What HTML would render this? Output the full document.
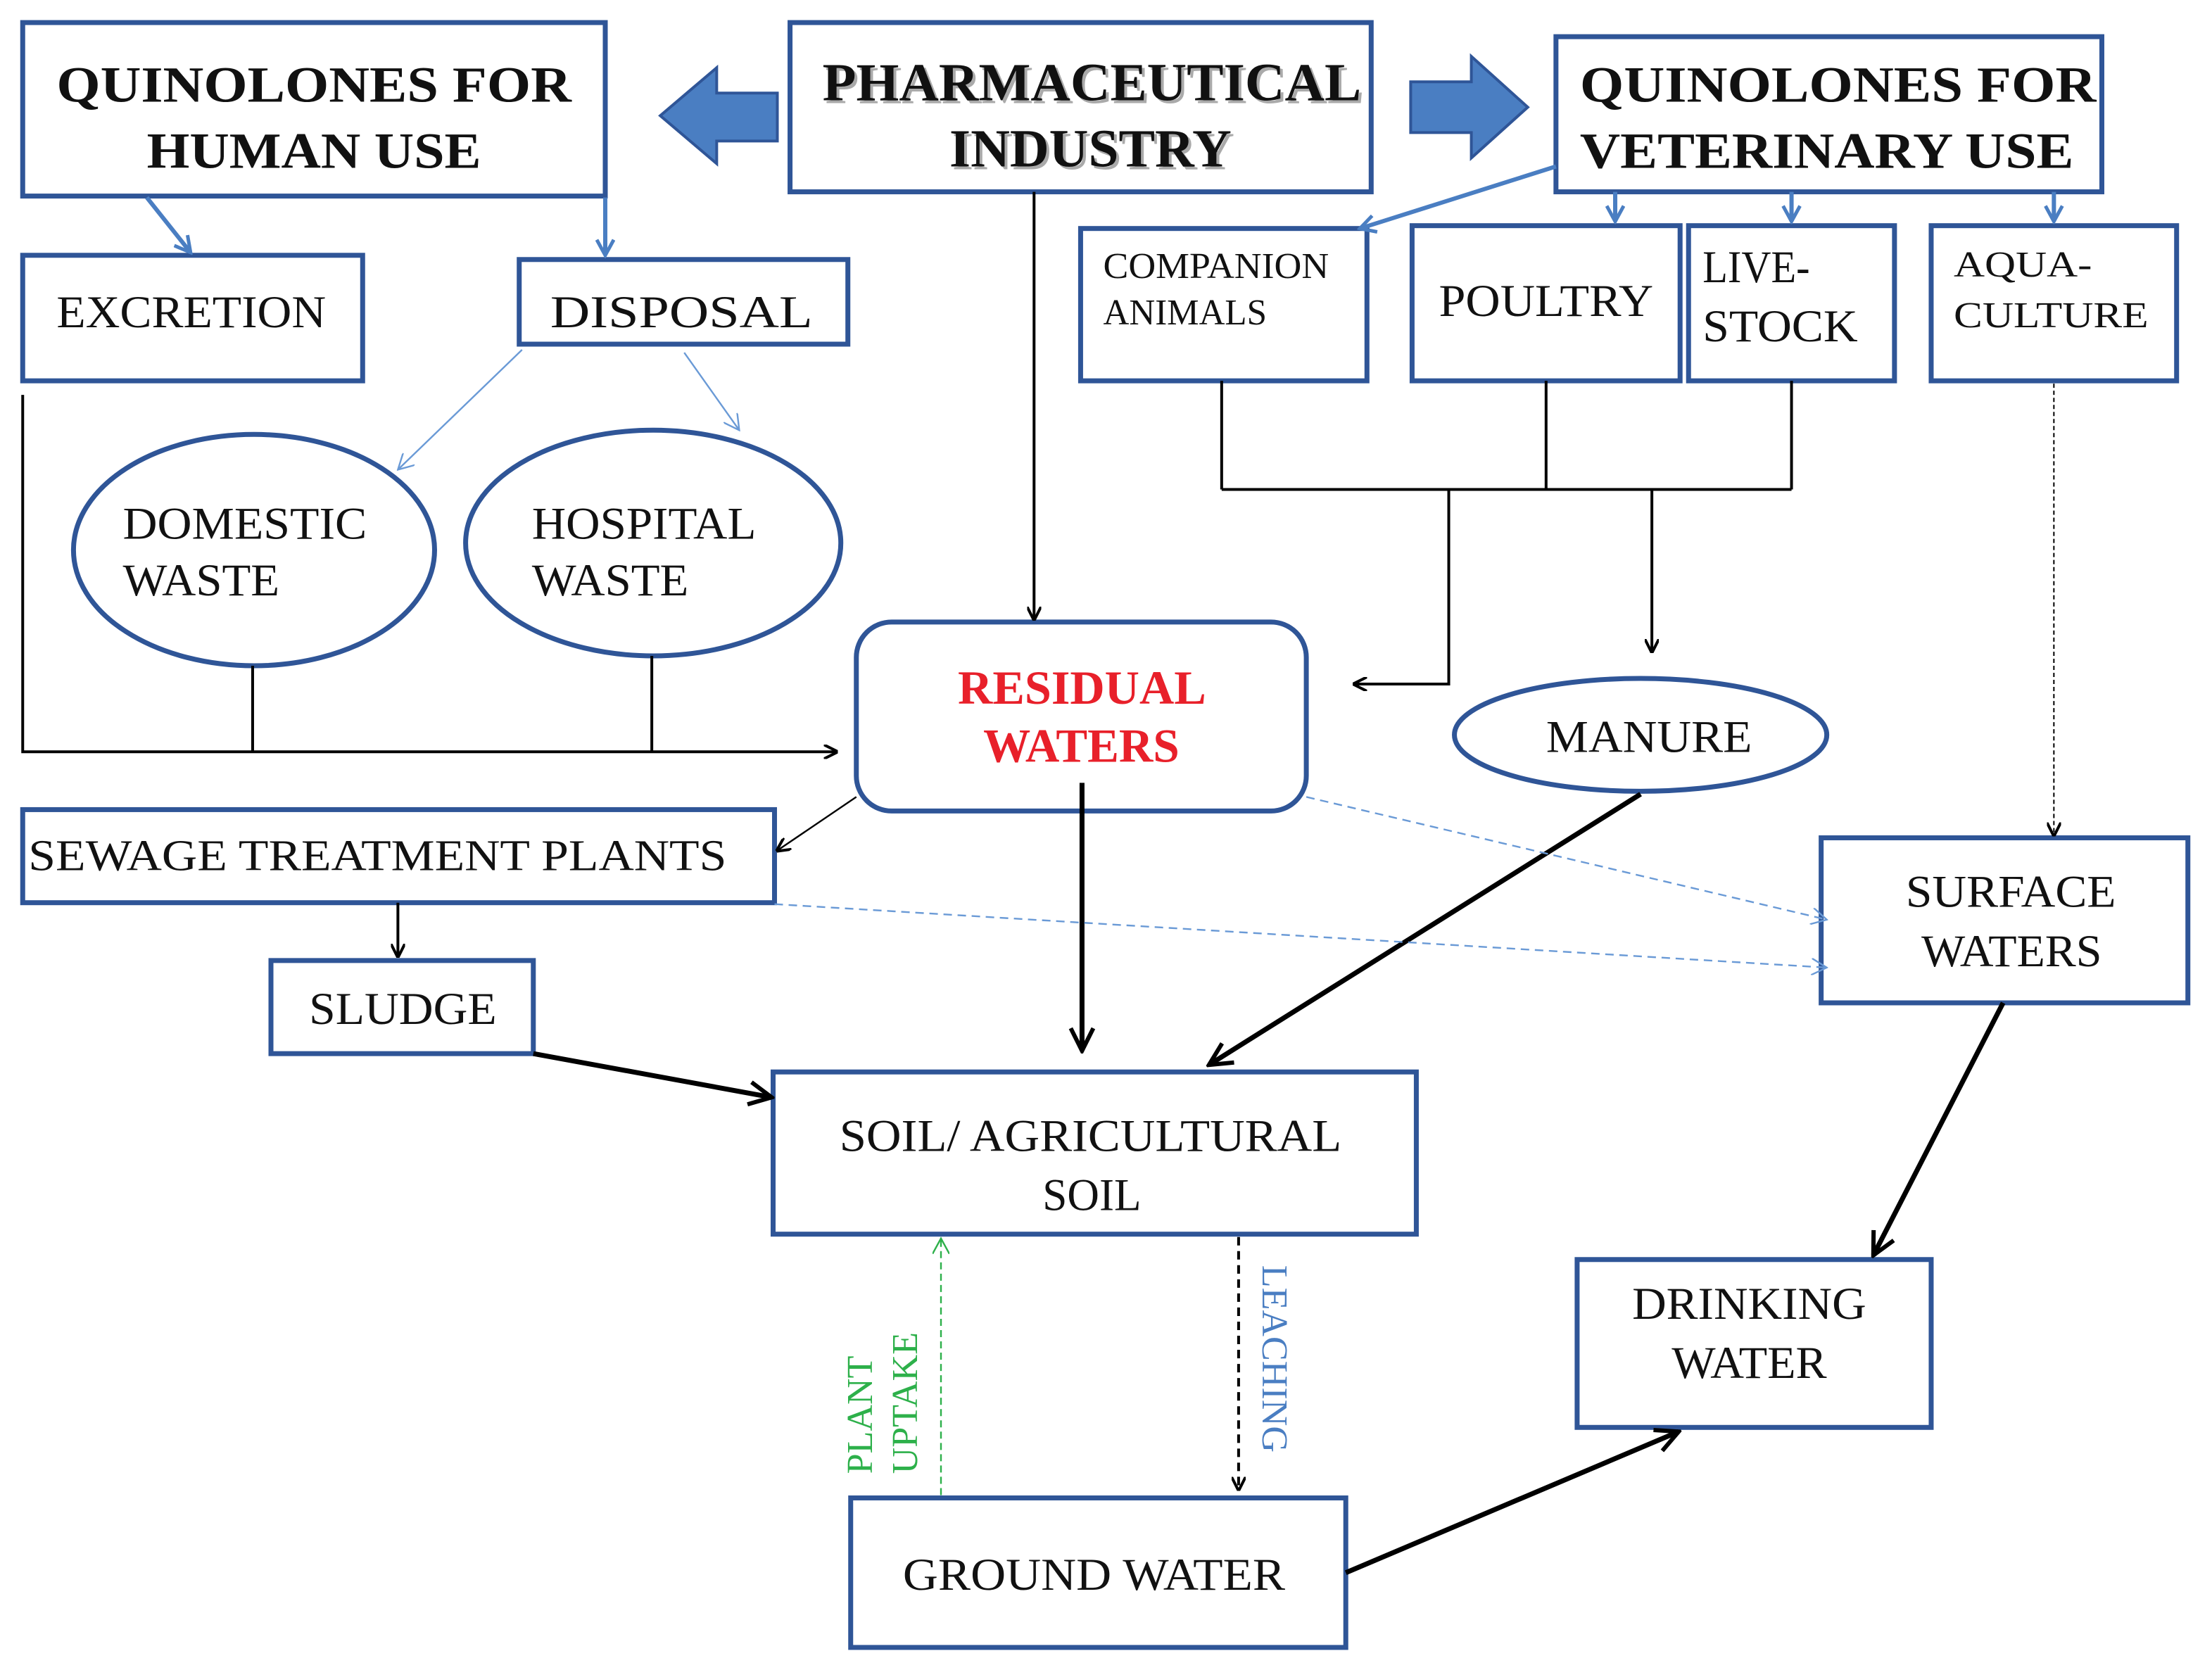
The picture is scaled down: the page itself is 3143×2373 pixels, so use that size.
<!DOCTYPE html>
<html><head><meta charset="utf-8"><style>
html,body{margin:0;padding:0;background:#fff;}
svg{display:block;}
text{font-family:"Liberation Serif",serif;fill:#111;}
</style></head><body>
<svg width="3143" height="2373" viewBox="0 0 1568 1184" xmlns="http://www.w3.org/2000/svg">
<defs>
<marker id="ab" markerWidth="10" markerHeight="10" refX="9" refY="5" orient="auto" markerUnits="userSpaceOnUse"><path d="M0,0 L10,5 L0,10" fill="none" stroke="#000" stroke-width="2"/></marker>
<marker id="abig" markerWidth="20" markerHeight="20" refX="18" refY="10" orient="auto" markerUnits="userSpaceOnUse"><path d="M2,2 L18,10 L2,18" fill="none" stroke="#000" stroke-width="3"/></marker>
<marker id="au" markerWidth="14" markerHeight="14" refX="12" refY="7" orient="auto" markerUnits="userSpaceOnUse"><path d="M1,1 L12,7 L1,13" fill="none" stroke="#4A7EC2" stroke-width="2.5"/></marker>
<marker id="aut" markerWidth="12" markerHeight="12" refX="11" refY="6" orient="auto" markerUnits="userSpaceOnUse"><path d="M0,0 L11,6 L0,12" fill="none" stroke="#6A9AD6" stroke-width="1.2"/></marker>
<marker id="ag" markerWidth="12" markerHeight="12" refX="11" refY="6" orient="auto" markerUnits="userSpaceOnUse"><path d="M0,0 L11,6 L0,12" fill="none" stroke="#2DB04A" stroke-width="1.2"/></marker>
</defs>
<g fill="none" stroke="#2F5597" stroke-width="3.5">
<rect x="16" y="16" width="413" height="123"/>
<rect x="560" y="16" width="412" height="120"/>
<rect x="1103" y="26" width="387" height="110"/>
<rect x="16" y="181" width="241" height="89"/>
<rect x="368" y="184" width="233" height="60"/>
<rect x="766" y="162" width="203" height="108"/>
<rect x="1001" y="160" width="190" height="110"/>
<rect x="1197" y="160" width="146" height="110"/>
<rect x="1369" y="160" width="174" height="110"/>
<ellipse cx="180" cy="390" rx="128" ry="82"/>
<ellipse cx="463" cy="385" rx="133" ry="80"/>
<rect x="607" y="441" width="319" height="134" rx="25"/>
<ellipse cx="1163" cy="521" rx="132" ry="40"/>
<rect x="16" y="574" width="533" height="66"/>
<rect x="192" y="681" width="186" height="66"/>
<rect x="1291" y="594" width="260" height="117"/>
<rect x="548" y="760" width="456" height="115"/>
<rect x="1118" y="893" width="251" height="119"/>
<rect x="603" y="1062" width="351" height="106"/>
</g>
<path d="M551,66 L508,66 L508,48 L468,82 L508,116 L508,100 L551,100 Z" fill="#4A7EC2" stroke="#2F5597" stroke-width="2"/>
<path d="M1000,58 L1043,58 L1043,40 L1083,76 L1043,112 L1043,94 L1000,94 Z" fill="#4A7EC2" stroke="#2F5597" stroke-width="2"/>
<g fill="none" stroke="#000" stroke-width="2">
<polyline points="16,280 16,533 593,533" marker-end="url(#ab)"/>
<line x1="179" y1="472" x2="179" y2="533"/>
<line x1="462" y1="465" x2="462" y2="533"/>
<line x1="733" y1="136" x2="733" y2="439" marker-end="url(#ab)"/>
<line x1="866" y1="270" x2="866" y2="347"/>
<line x1="1096" y1="270" x2="1096" y2="347"/>
<line x1="1270" y1="270" x2="1270" y2="347"/>
<line x1="866" y1="347" x2="1270" y2="347"/>
<polyline points="1027,347 1027,485 960,485" marker-end="url(#ab)"/>
<line x1="1171" y1="347" x2="1171" y2="462" marker-end="url(#ab)"/>
<line x1="607" y1="565" x2="551" y2="603" stroke-width="1.2" marker-end="url(#ab)"/>
<line x1="282" y1="640" x2="282" y2="678" marker-end="url(#ab)"/>
<line x1="1456" y1="272" x2="1456" y2="592" stroke-width="1" stroke-dasharray="3,2" marker-end="url(#ab)"/>
<line x1="878" y1="877" x2="878" y2="1056" stroke-dasharray="6,4" marker-end="url(#ab)"/>
</g>
<g fill="none" stroke="#000" stroke-width="3.5">
<line x1="767" y1="555" x2="767" y2="745" marker-end="url(#abig)"/>
<line x1="1163" y1="563" x2="857" y2="755" marker-end="url(#abig)"/>
<line x1="378" y1="747" x2="547" y2="778" marker-end="url(#abig)"/>
<line x1="1420" y1="711" x2="1328" y2="890" marker-end="url(#abig)"/>
<line x1="954" y1="1115" x2="1190" y2="1015" marker-end="url(#abig)"/>
</g>
<g fill="none" stroke="#4A7EC2" stroke-width="3">
<line x1="104" y1="140" x2="135" y2="179" marker-end="url(#au)"/>
<line x1="429" y1="140" x2="429" y2="181" marker-end="url(#au)"/>
<line x1="1103" y1="118" x2="964" y2="162" marker-end="url(#au)"/>
<line x1="1145" y1="136" x2="1145" y2="157" marker-end="url(#au)"/>
<line x1="1270" y1="136" x2="1270" y2="157" marker-end="url(#au)"/>
<line x1="1456" y1="136" x2="1456" y2="157" marker-end="url(#au)"/>
</g>
<g fill="none" stroke="#6A9AD6" stroke-width="1.2">
<line x1="370" y1="248" x2="282" y2="333" marker-end="url(#aut)"/>
<line x1="485" y1="250" x2="524" y2="305" marker-end="url(#aut)"/>
<line x1="926" y1="565" x2="1295" y2="652" stroke-dasharray="6,4" marker-end="url(#aut)"/>
<line x1="549" y1="641" x2="1295" y2="686" stroke-dasharray="6,4" marker-end="url(#aut)"/>
</g>
<line x1="667" y1="1060" x2="667" y2="878" stroke="#2DB04A" stroke-width="1.2" stroke-dasharray="5,3" marker-end="url(#ag)"/>
<g font-size="36" font-weight="bold" lengthAdjust="spacingAndGlyphs">
<text x="40" y="72" textLength="365" lengthAdjust="spacingAndGlyphs">QUINOLONES FOR</text>
<text x="104" y="119" textLength="237" lengthAdjust="spacingAndGlyphs">HUMAN USE</text>
<text x="1120" y="72" textLength="366" lengthAdjust="spacingAndGlyphs">QUINOLONES FOR</text>
<text x="1120" y="119" textLength="350" lengthAdjust="spacingAndGlyphs">VETERINARY USE</text>
</g>
<g font-size="38" font-weight="bold">
<text x="585" y="73" textLength="382" lengthAdjust="spacingAndGlyphs" style="fill:#aaa">PHARMACEUTICAL</text>
<text x="583" y="71" textLength="382" lengthAdjust="spacingAndGlyphs">PHARMACEUTICAL</text>
<text x="675" y="120" textLength="200" lengthAdjust="spacingAndGlyphs" style="fill:#aaa">INDUSTRY</text>
<text x="673" y="118" textLength="200" lengthAdjust="spacingAndGlyphs">INDUSTRY</text>
</g>
<g font-size="32">
<text x="40" y="232" textLength="191" lengthAdjust="spacingAndGlyphs">EXCRETION</text>
<text x="390" y="232" textLength="186" lengthAdjust="spacingAndGlyphs">DISPOSAL</text>
<text x="1020" y="224" textLength="152" lengthAdjust="spacingAndGlyphs">POULTRY</text>
<text x="1207" y="200" textLength="76" lengthAdjust="spacingAndGlyphs">LIVE-</text>
<text x="1207" y="242" textLength="110" lengthAdjust="spacingAndGlyphs">STOCK</text>
<text x="87" y="382" textLength="173" lengthAdjust="spacingAndGlyphs">DOMESTIC</text>
<text x="87" y="422" textLength="111" lengthAdjust="spacingAndGlyphs">WASTE</text>
<text x="377" y="382" textLength="159" lengthAdjust="spacingAndGlyphs">HOSPITAL</text>
<text x="377" y="422" textLength="111" lengthAdjust="spacingAndGlyphs">WASTE</text>
<text x="1096" y="533" textLength="146" lengthAdjust="spacingAndGlyphs">MANURE</text>
<text x="20" y="617" font-size="31" textLength="495" lengthAdjust="spacingAndGlyphs">SEWAGE  TREATMENT  PLANTS</text>
<text x="219" y="726" textLength="133" lengthAdjust="spacingAndGlyphs">SLUDGE</text>
<text x="1351" y="643" textLength="149" lengthAdjust="spacingAndGlyphs">SURFACE</text>
<text x="1362" y="685" textLength="128" lengthAdjust="spacingAndGlyphs">WATERS</text>
<text x="595" y="816" textLength="356" lengthAdjust="spacingAndGlyphs">SOIL/ AGRICULTURAL</text>
<text x="739" y="858" textLength="70" lengthAdjust="spacingAndGlyphs">SOIL</text>
<text x="1157" y="935" textLength="166" lengthAdjust="spacingAndGlyphs">DRINKING</text>
<text x="1185" y="977" textLength="110" lengthAdjust="spacingAndGlyphs">WATER</text>
<text x="640" y="1127" textLength="271" lengthAdjust="spacingAndGlyphs">GROUND WATER</text>
</g>
<g font-size="26">
<text x="782" y="197" textLength="160" lengthAdjust="spacingAndGlyphs">COMPANION</text>
<text x="782" y="230" textLength="116" lengthAdjust="spacingAndGlyphs">ANIMALS</text>
<text x="1385" y="196" textLength="98" lengthAdjust="spacingAndGlyphs">AQUA-</text>
<text x="1385" y="232" textLength="138" lengthAdjust="spacingAndGlyphs">CULTURE</text>
</g>
<g font-size="34" font-weight="bold">
<text x="679" y="499" textLength="176" lengthAdjust="spacingAndGlyphs" style="fill:#E8202A">RESIDUAL</text>
<text x="697" y="540" textLength="139" lengthAdjust="spacingAndGlyphs" style="fill:#E8202A">WATERS</text>
</g>
<g font-size="26">
<text transform="translate(618,1045) rotate(-90)" style="fill:#2DB04A">PLANT</text>
<text transform="translate(650,1045) rotate(-90)" style="fill:#2DB04A">UPTAKE</text>
<text transform="translate(895,897) rotate(90)" style="fill:#4A7EC2">LEACHING</text>
</g>
</svg>
</body></html>
